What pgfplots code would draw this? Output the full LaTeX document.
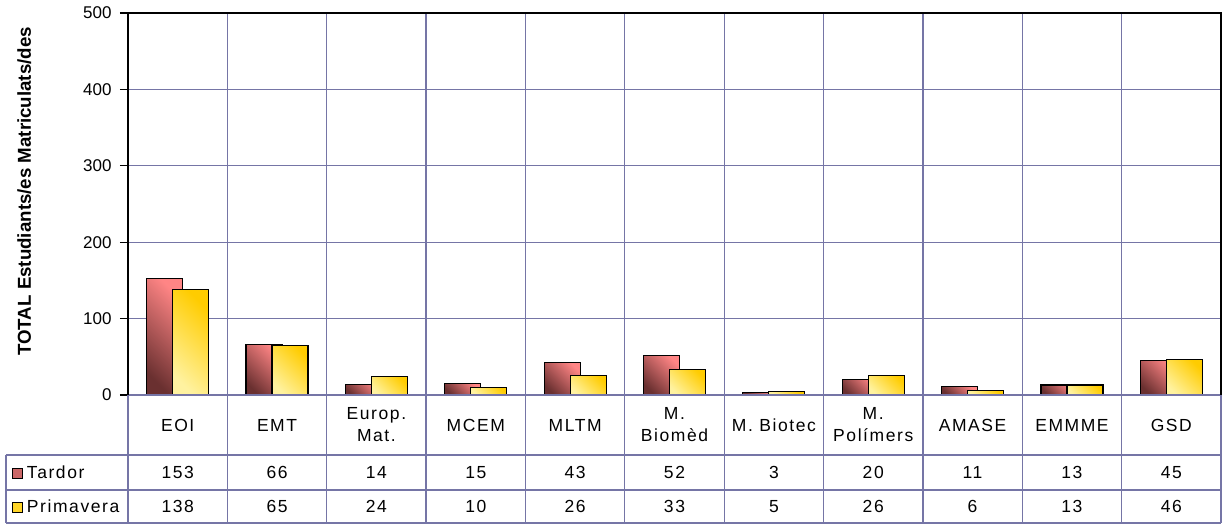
\documentclass[border=0pt]{standalone}
\usepackage{fontspec}
\setmainfont{Liberation Sans}
\newfontfamily\spaced[LetterSpace=9]{Liberation Sans}
\usepackage{pgfplots}
\pgfplotsset{compat=1.18}
\usepackage{pgfplotstable}
\definecolor{gridc}{HTML}{7575A6}
\definecolor{tdark}{HTML}{6A3030}
\definecolor{tlight}{HTML}{FF8585}
\definecolor{plight}{HTML}{FFF2A0}
\definecolor{pdark}{HTML}{FFCC00}

\pgfplotstableread{
x T P
0 153 138
1 66 65
2 14 24
3 15 10
4 43 26
5 52 33
6 3 5
7 20 26
8 11 6
9 13 13
10 45 46
}\datatable

\newcommand\tfont{\spaced\fontsize{17.5}{22}\selectfont}

\begin{document}
\begin{tikzpicture}
\begin{axis}[
  name=a, scale only axis, width=1093pt, height=382pt,
  xmin=-0.5, xmax=10.5, ymin=0, ymax=500,
  ytick={0,100,...,500},
  xtick={0,...,10},
  xticklabels={EOI,EMT,{Europ.\\Mat.},MCEM,MLTM,{M.\\Biomèd},{M. Biotec},{M.\\Polímers},AMASE,EMMME,GSD},
  xticklabel style={align=center, anchor=center, yshift=-22pt, font=\tfont},
  major x tick style={draw=none},
  minor xtick={-0.5,0.5,...,10.5},
  minor tick length=0pt,
  xminorgrids, ymajorgrids,
  grid style={gridc, line width=1.3pt},
  minor grid style={gridc, line width=1.3pt},
  axis line style={draw=none},
  ytick pos=left, tick align=outside, major tick length=8pt,
  major y tick style={black, line width=1.2pt},
  clip=false,
  /pgf/number format/assume math mode=true,
  yticklabel style={font=\fontsize{17}{20}\selectfont, xshift=-5pt},
  ylabel={TOTAL Estudiants/es Matriculats/des},
  ylabel style={font=\bfseries\fontsize{18.7}{20}\selectfont, at={(axis description cs:-0.095,0.533)}, anchor=center},
]
\pgfplotsinvokeforeach{0,...,10}{
\addplot[ybar, bar width=36pt, bar shift=-13pt, draw=black, line width=1.2pt,
  bottom color=tdark, top color=tlight, shading angle=-45, restrict x to domain=#1:#1] table[x=x,y=T]{\datatable};
\addplot[ybar, bar width=36pt, bar shift=13pt, draw=black, line width=1.2pt,
  bottom color=plight, top color=pdark, shading angle=-45, restrict x to domain=#1:#1] table[x=x,y=P]{\datatable};
}

\addplot[draw=none, mark=none, nodes near coords, point meta=explicit symbolic,
  nodes near coords style={anchor=center, font=\tfont}]
  table[x=x, y expr=-101.4, meta=T]{\datatable};
\addplot[draw=none, mark=none, nodes near coords, point meta=explicit symbolic,
  nodes near coords style={anchor=center, font=\tfont}]
  table[x=x, y expr=-145.9, meta=P]{\datatable};

\draw[gridc, line width=1.3pt] (axis cs:-0.5,0) -- (axis cs:10.5,0);
\draw[gridc, line width=1.3pt] (axis cs:-1.728,-78.5) -- (axis cs:10.5,-78.5);
\draw[gridc, line width=1.3pt] (axis cs:-1.728,-124.3) -- (axis cs:10.5,-124.3);
\draw[gridc, line width=1.3pt] (axis cs:-1.728,-167.5) -- (axis cs:10.5,-167.5);
\draw[gridc, line width=1.3pt] (axis cs:-1.728,-78.5) -- (axis cs:-1.728,-167.5);
\foreach \k in {-0.5,0.5,...,10.5} {
  \edef\tmp{\noexpand\draw[gridc, line width=1.3pt] (axis cs:\k,0) -- (axis cs:\k,-167.5);}\tmp
}
\draw[black, line width=1.3pt] (axis cs:-0.5,0) -- (axis cs:-0.5,500) -- (axis cs:10.5,500) -- (axis cs:10.5,0);

\node[anchor=west, font=\tfont, inner sep=0pt] at (axis cs:-1.665,-101.4)
  {\setlength\fboxsep{0pt}\setlength\fboxrule{1pt}\raisebox{1pt}{\fcolorbox{black}{tlight!65!tdark}{\rule{0pt}{8.5pt}\hspace{8.5pt}}}\hspace{4pt}Tardor};
\node[anchor=west, font=\tfont, inner sep=0pt] at (axis cs:-1.665,-145.9)
  {\setlength\fboxsep{0pt}\setlength\fboxrule{1pt}\raisebox{1pt}{\fcolorbox{black}{pdark!75!plight}{\rule{0pt}{8.5pt}\hspace{8.5pt}}}\hspace{4pt}Primavera};
\end{axis}
\pgfresetboundingbox
\path ([xshift=-128pt,yshift=-129pt]a.south west) rectangle ([xshift=6pt,yshift=13pt]a.north east);
\end{tikzpicture}
\end{document}
